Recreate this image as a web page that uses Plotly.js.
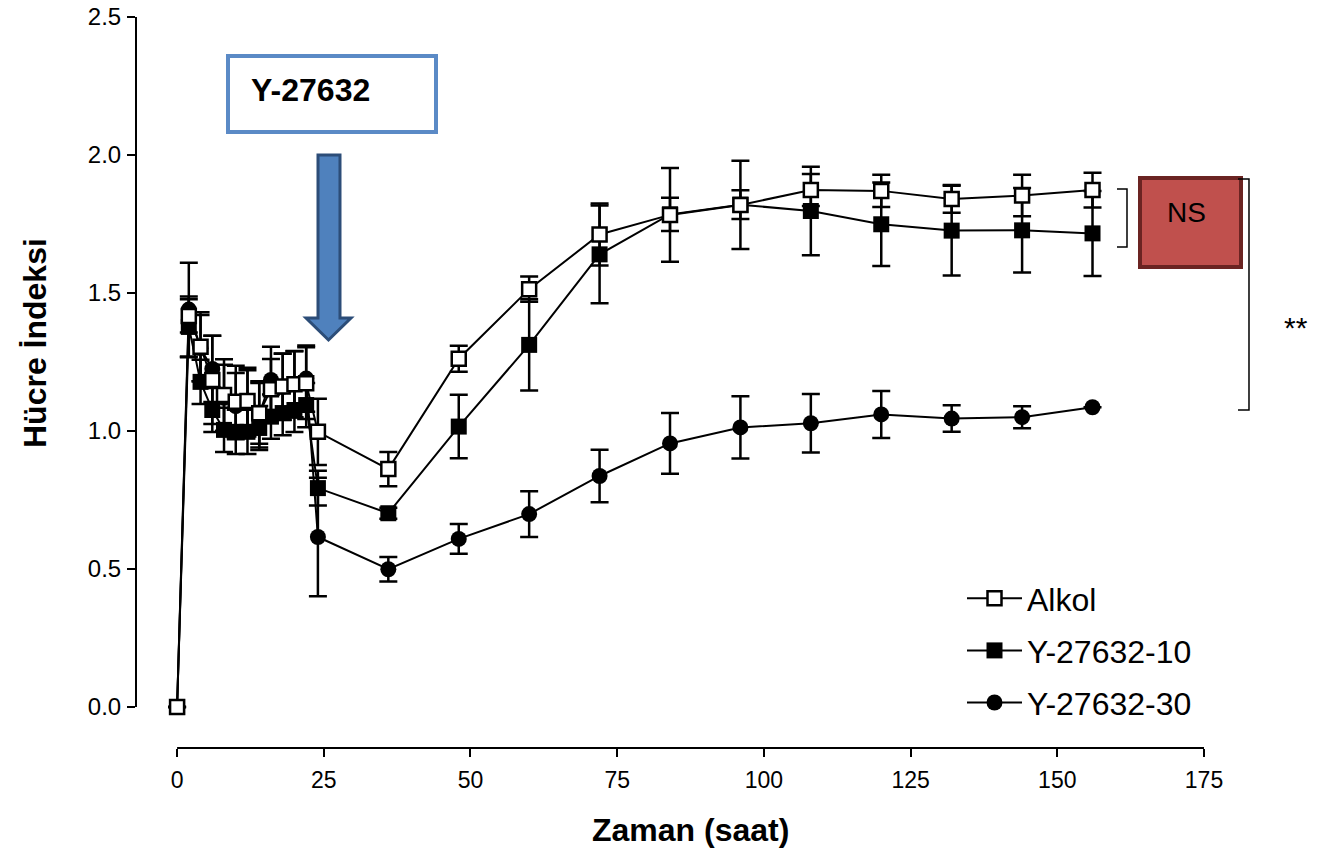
<!DOCTYPE html>
<html>
<head>
<meta charset="utf-8">
<script src="https://cdn.plot.ly/plotly-3.0.1.min.js"></script>
<style>html,body{margin:0;padding:0;background:#fff;}#chart{width:1336px;height:854px;}</style>
</head>
<body>
<div id="chart"></div>
<script>
// ---- data ----
const time = [0,2,4,6,8,10,12,14,16,18,20,22,24,36,48,60,72,84,96,108,120,132,144,156];

const alkol    = [0,1.417,1.305,1.185,1.13,1.106,1.109,1.064,1.151,1.161,1.169,1.173,0.997,0.862,1.262,1.514,1.712,1.783,1.819,1.873,1.870,1.841,1.853,1.873];
const alkolErr = [0,0.06,0.125,0.16,0.13,0.13,0.12,0.11,0.11,0.12,0.12,0.13,0.12,0.062,0.047,0.046,0.112,0.17,0.16,0.058,0.058,0.05,0.075,0.063];

const y10      = [0,1.377,1.178,1.076,1.004,0.997,0.997,1.011,1.052,1.065,1.076,1.094,0.793,0.702,1.016,1.312,1.640,1.785,1.820,1.797,1.749,1.726,1.727,1.716];
const y10Err   = [0,0.11,0.08,0.08,0.08,0.08,0.08,0.08,0.08,0.08,0.08,0.08,0.063,0.02,0.115,0.165,0.177,0.06,0.052,0.16,0.151,0.163,0.153,0.154];

const y30      = [0,1.44,1.30,1.225,1.12,1.09,1.10,1.06,1.185,1.16,1.17,1.19,0.616,0.499,0.609,0.699,0.837,0.955,1.013,1.028,1.060,1.045,1.050,1.086];
const y30Err   = [0,0.17,0.12,0.12,0.12,0.12,0.12,0.12,0.12,0.12,0.12,0.12,0.215,0.044,0.054,0.083,0.095,0.11,0.113,0.106,0.085,0.048,0.04,0];

const seriesNames = ['Alkol','Y-27632-10','Y-27632-30'];
const xTicks = [0,25,50,75,100,125,150,175];
const yTicks = [0,0.5,1.0,1.5,2.0,2.5];

// ---- layout geometry (pixels of the 1336x854 canvas) ----
const W = 1336, H = 854;
const L = 136, R = 1204, T = 17, B = 748;
const px = x => (x - L) / (R - L);
const py = y => (B - y) / (B - T);
const P = (x, y) => px(x).toFixed(5) + ',' + py(y).toFixed(5);

const FONT = 'Liberation Sans, Arial, sans-serif';

function errCfg(arr){
  return {type:'data', array:arr, visible:true, color:'#000', thickness:2.5, width:9};
}

const traces = [
  {x:time, y:y30, name:seriesNames[2], mode:'lines+markers', legendrank:3, legendgroup:'g3',
   line:{color:'#000', width:2}, marker:{symbol:'circle', size:16, color:'#000'},
   error_y:errCfg(y30Err), cliponaxis:false},
  {x:time, y:y10, name:seriesNames[1], mode:'lines+markers', legendrank:2, legendgroup:'g2',
   line:{color:'#000', width:2}, marker:{symbol:'square', size:16, color:'#000'},
   error_y:errCfg(y10Err), cliponaxis:false},
  {x:time, y:alkol, name:seriesNames[0], mode:'lines+markers', legendrank:1, legendgroup:'g1',
   line:{color:'#000', width:2}, marker:{symbol:'square', size:14, color:'#fff', line:{color:'#000', width:2.5}},
   error_y:errCfg(alkolErr), cliponaxis:false}
];

const shapes = [
  // axis lines
  {type:'line', xref:'paper', yref:'y', x0:0, x1:0, y0:0, y1:2.5, line:{color:'#000', width:2}},
  {type:'line', xref:'x', yref:'paper', x0:0, x1:175, y0:0, y1:0, line:{color:'#000', width:2}},
  // Y-27632 box
  {type:'rect', xref:'paper', yref:'paper', x0:px(228), x1:px(436), y0:py(132), y1:py(56),
   line:{color:'#5b8ac6', width:4}, fillcolor:'#fff'},
  // arrow
  {type:'path', xref:'paper', yref:'paper',
   path:'M'+P(318,155)+' L'+P(340,155)+' L'+P(340,318)+' L'+P(351,318)+' L'+P(328.5,340)+' L'+P(306,318)+' L'+P(318,318)+' Z',
   fillcolor:'#4f81bd', line:{color:'#2c4d78', width:3}},
  // NS box
  {type:'rect', xref:'paper', yref:'paper', x0:px(1140), x1:px(1241), y0:py(267), y1:py(178),
   line:{color:'#6b2422', width:4}, fillcolor:'#c0504d'},
  // brackets
  {type:'path', xref:'paper', yref:'paper',
   path:'M'+P(1117,189)+' L'+P(1127,189)+' L'+P(1127,247)+' L'+P(1117,247),
   line:{color:'#000', width:1.5}},
  {type:'path', xref:'paper', yref:'paper',
   path:'M'+P(1238,179)+' L'+P(1249,179)+' L'+P(1249,410)+' L'+P(1238,410),
   line:{color:'#000', width:1.5}}
];

const annotations = [
  {xref:'paper', yref:'paper', x:px(249), y:py(90), xanchor:'left', yanchor:'middle', showarrow:false,
   text:'<b>Y-27632</b>', font:{family:FONT, size:32, color:'#000'}},
  {xref:'paper', yref:'paper', x:px(1186), y:py(212), xanchor:'center', yanchor:'middle', showarrow:false,
   text:'NS', font:{family:FONT, size:28, color:'#000'}},
  {xref:'paper', yref:'paper', x:px(1296), y:py(328), xanchor:'center', yanchor:'middle', showarrow:false,
   text:'**', font:{family:FONT, size:30, color:'#000'}},
  {xref:'paper', yref:'paper', x:px(35), y:py(343), xanchor:'center', yanchor:'middle', showarrow:false,
   textangle:-90, text:'<b>Hücre İndeksi</b>', font:{family:FONT, size:32, color:'#000'}},
  {xref:'paper', yref:'paper', x:px(690), y:py(830), xanchor:'center', yanchor:'middle', showarrow:false,
   text:'<b>Zaman (saat)</b>', font:{family:FONT, size:32, color:'#000'}}
];

const layout = {
  width:W, height:H,
  margin:{l:L, r:W-R, t:T, b:H-B, pad:0},
  paper_bgcolor:'#fff', plot_bgcolor:'#fff',
  font:{family:FONT, color:'#000'},
  showlegend:true,
  legend:{x:px(962), y:py(571), xanchor:'left', yanchor:'top', traceorder:'grouped',
          tracegroupgap:7.5, itemwidth:55, font:{family:FONT, size:32, color:'#000'},
          bgcolor:'rgba(0,0,0,0)', borderwidth:0},
  xaxis:{range:[-7,175], tickvals:xTicks, ticktext:xTicks.map(String), ticks:'outside', ticklen:8, tickwidth:2,
         tickcolor:'#000', showgrid:false, zeroline:false, showline:false, ticklabelstandoff:3,
         tickfont:{family:FONT, size:23, color:'#000'}},
  yaxis:{range:[-0.1486,2.5], tickvals:yTicks, ticktext:yTicks.map(v=>v.toFixed(1)), ticks:'outside', ticklen:8, tickwidth:2,
         tickcolor:'#000', showgrid:false, zeroline:false, showline:false, ticklabelstandoff:1,
         tickfont:{family:FONT, size:24, color:'#000'}},
  shapes:shapes,
  annotations:annotations
};

Plotly.newPlot('chart', traces, layout, {staticPlot:true, displayModeBar:false});
</script>
</body>
</html>
